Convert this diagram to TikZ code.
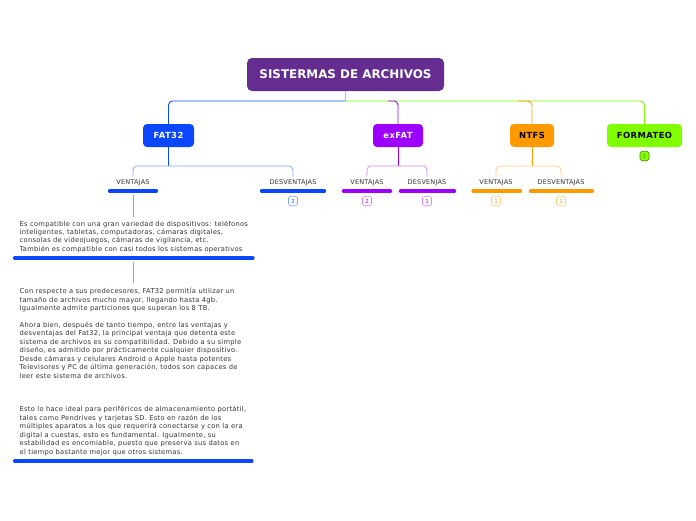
\documentclass[tikz,border=0pt]{standalone}
\usepackage{fontspec}
\setmainfont{DejaVu Sans}
\newfontfamily\bodyfont[LetterSpace=4]{DejaVu Sans}
\newfontfamily\lblfont[LetterSpace=3]{DejaVu Sans}
\newfontfamily\topfont[LetterSpace=5]{DejaVu Sans}
\definecolor{cTitle}{HTML}{662D91}
\definecolor{cBlue}{HTML}{0A47FF}
\definecolor{cBlueL}{HTML}{7FA3FF}
\definecolor{cPurp}{HTML}{9E00FF}
\definecolor{cPurpL}{HTML}{CF85FF}
\definecolor{cOrg}{HTML}{FF9900}
\definecolor{cOrgL}{HTML}{FFCB7A}
\definecolor{cGrn}{HTML}{80FF00}
\definecolor{cGrnD}{HTML}{4E8A12}
\definecolor{cTxt}{HTML}{333333}
\tikzset{
  topic/.style={rounded corners=4pt, minimum height=23pt, inner sep=0pt, font=\topfont\fontsize{8.4}{10}\selectfont\bfseries},
  lbl/.style={font=\lblfont\fontsize{6.5}{7}\selectfont, text=cTxt, inner sep=0pt},
  uline/.style={line width=3.2pt, line cap=round},
  badge/.style={draw, rounded corners=1.8pt, minimum width=9pt, minimum height=9.5pt, inner sep=0pt, font=\fontsize{5.5}{5.5}\selectfont, line width=0.6pt},
  conn/.style={line width=0.9pt, rounded corners=4pt},
  sconn/.style={line width=0.7pt, rounded corners=4pt},
  body/.style={anchor=north west, inner sep=0pt, align=left, text=cTxt, font=\bodyfont\fontsize{6.72}{8.45}\selectfont},
}
\begin{document}
\begin{tikzpicture}[x=1pt,y=-1pt]
\useasboundingbox (0,0) rectangle (696,520);
% title
\node[fill=cTitle, rounded corners=5pt, minimum width=197pt, minimum height=33pt, inner sep=0pt, text=white, font=\fontsize{11.9}{13}\selectfont\bfseries] (root) at (345.5,74.5) {SISTERMAS DE ARCHIVOS};
% main topics
\node[topic, fill=cBlue, text=white, minimum width=51pt] (fat) at (168.5,135.5) {FAT32};
\node[topic, fill=cPurp, text=white, minimum width=50pt] (exf) at (398,135.5) {exFAT};
\node[topic, fill=cOrg, text=black, minimum width=44pt] (ntfs) at (532,135.5) {NTFS};
\node[topic, fill=cGrn, text=black, minimum width=75pt] (form) at (644.5,135.5) {FORMATEO};
\node[badge, fill=cGrn, draw=cGrnD, text=cGrnD] (bform) at (644.5,156) {1};
% root connectors
\coordinate (rj) at (345.5,101);
\draw[conn, cGrn] (root.south) -- (rj);
\draw[conn, cBlue] (rj) -| (fat.north);
\draw[conn, cGrn] (rj) -| (form.north);
\coordinate (pj) at (388,101);
\coordinate (oj) at (518,101);
\draw[conn, cPurp] (pj) -| (exf.north);
\draw[conn, cOrg] (oj) -| (ntfs.north);
% FAT32 subtopics
\node[lbl] (fv) at (133,183) {VENTAJAS};
\node[lbl] (fd) at (293,183) {DESVENTAJAS};
\coordinate (fj) at (168.5,166);
\draw[sconn, cBlue] (fat.south) -- (fj);
\draw[sconn, cBlueL] (fj) -| ([yshift=3pt]fv.north);
\draw[sconn, cBlueL] (fj) -| ([yshift=3pt]fd.north);
\draw[uline, cBlue] (109.5,191) coordinate (fvl) -- (156.5,191) coordinate (fvr);
\draw[uline, cBlue] (261.5,191) coordinate (fdl) -- (324.5,191) coordinate (fdr);
\node[badge, draw=cBlueL, text=cBlue] (bfd) at (293,201) {2};
% exFAT subtopics
\node[lbl] (ev) at (367,183) {VENTAJAS};
\node[lbl] (ed) at (427,183) {DESVENJAS};
\coordinate (ej) at (398,166);
\draw[sconn, cPurp] (exf.south) -- (ej);
\draw[sconn, cPurpL] (ej) -| ([yshift=3pt]ev.north);
\draw[sconn, cPurpL] (ej) -| ([yshift=3pt]ed.north);
\draw[uline, cPurp] (343.5,191) -- (390.5,191);
\draw[uline, cPurp] (400.5,191) -- (454.5,191);
\node[badge, draw=cPurpL, text=cPurp] (bev) at (367,201) {2};
\node[badge, draw=cPurpL, text=cPurp] (bed) at (427,201) {1};
% NTFS subtopics
\node[lbl] (nv) at (496,183) {VENTAJAS};
\node[lbl] (nd) at (561,183) {DESVENTAJAS};
\coordinate (nj) at (532,166);
\draw[sconn, cOrg] (ntfs.south) -- (nj);
\draw[sconn, cOrgL] (nj) -| ([yshift=3pt]nv.north);
\draw[sconn, cOrgL] (nj) -| ([yshift=3pt]nd.north);
\draw[uline, cOrg] (473,191) -- (520.5,191);
\draw[uline, cOrg] (530.5,191) -- (592.5,191);
\node[badge, draw=cOrgL, text=cOrg] (bnv) at (496,201) {1};
\node[badge, draw=cOrgL, text=cOrg] (bnd) at (561,201) {1};
% FAT32 ventajas details
\node[body] (t1) at (19.5,220.5) {Es compatible con una gran variedad de dispositivos: teléfonos\\inteligentes, tabletas, computadoras, cámaras digitales,\\consolas de videojuegos, cámaras de vigilancia, etc.\\También es compatible con casi todos los sistemas operativos};
\draw[uline, cBlue] (14.5,258) coordinate (t1l) -- (253,258) coordinate (t1r);
\draw[sconn, cBlueL] (133,195) coordinate (fva) -- (133,217) coordinate (t1a);
\node[body] (t2) at (19.5,288) {Con respecto a sus predecesores, FAT32 permitía utilizar un\\tamaño de archivos mucho mayor, llegando hasta 4gb.\\Igualmente admite particiones que superan los 8 TB.\\[8.45pt]Ahora bien, después de tanto tiempo, entre las ventajas y\\desventajas del Fat32, la principal ventaja que detenta este\\sistema de archivos es su compatibilidad. Debido a su simple\\diseño, es admitido por prácticamente cualquier dispositivo.\\Desde cámaras y celulares Android o Apple hasta potentes\\Televisores y PC de última generación, todos son capaces de\\leer este sistema de archivos.\\[25.35pt]Esto lo hace ideal para periféricos de almacenamiento portátil,\\tales como Pendrives y tarjetas SD. Esto en razón de los\\múltiples aparatos a los que requerirá conectarse y con la era\\digital a cuestas, esto es fundamental. Igualmente, su\\estabilidad es encomiable, puesto que preserva sus datos en\\el tiempo bastante mejor que otros sistemas.};
\draw[uline, cBlue] (14.5,461) -- (252,461);
\draw[sconn, cBlueL] (133,262) -- (133,283);
\end{tikzpicture}
\end{document}
